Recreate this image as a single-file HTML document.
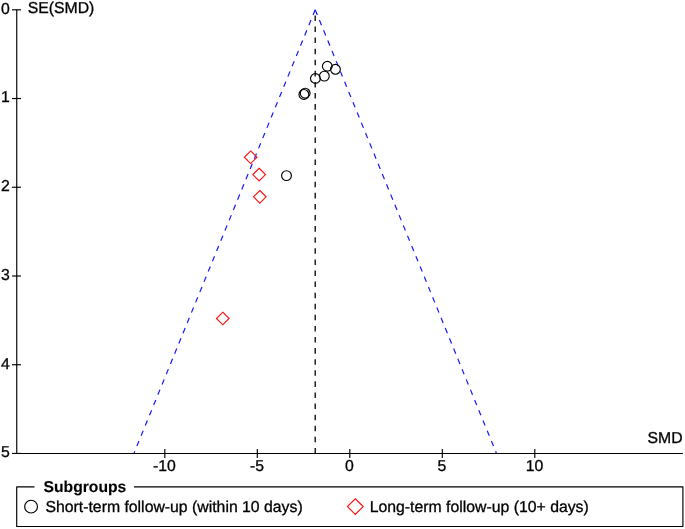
<!DOCTYPE html>
<html><head><meta charset="utf-8"><title>Funnel plot</title>
<style>html,body{margin:0;padding:0;background:#fff}svg{display:block}text{stroke:#000;stroke-width:.3px}</style></head>
<body>
<svg width="685" height="529" viewBox="0 0 685 529" font-family="'Liberation Sans', Arial, sans-serif" font-size="15.8" fill="#000" text-rendering="geometricPrecision" stroke-linejoin="miter">
<rect width="685" height="529" fill="#fff"/>
<g fill="none" stroke="#1818ff" stroke-width="1.2" stroke-dasharray="5.545 5.545">
<path d="M315.2 9.8 L133.90 453.45"/>
<path d="M315.2 9.8 L496.50 453.45"/>
</g>
<path d="M315.2 453.45 L315.2 9.8" fill="none" stroke="#000" stroke-width="1.3" stroke-dasharray="5.545 5.545"/>
<g fill="none" stroke="#000" stroke-width="1.15">
<path d="M16.75 9.8 L16.75 453.45 L682.9 453.45"/>
<path d="M12 9.80 H21"/>
<path d="M12 98.53 H21"/>
<path d="M12 187.26 H21"/>
<path d="M12 275.99 H21"/>
<path d="M12 364.72 H21"/>
<path d="M12 453.45 H21"/>
<path d="M164.80 449 V458"/>
<path d="M257.30 449 V458"/>
<path d="M349.80 449 V458"/>
<path d="M442.30 449 V458"/>
<path d="M534.80 449 V458"/>
</g>
<text x="9.7" y="13.60" text-anchor="end">0</text>
<text x="9.7" y="102.33" text-anchor="end">1</text>
<text x="9.7" y="191.06" text-anchor="end">2</text>
<text x="9.7" y="279.79" text-anchor="end">3</text>
<text x="9.7" y="368.52" text-anchor="end">4</text>
<text x="9.7" y="457.25" text-anchor="end">5</text>
<text x="164.50" y="471.1" text-anchor="middle">-10</text>
<text x="257.00" y="471.1" text-anchor="middle">-5</text>
<text x="349.50" y="471.1" text-anchor="middle">0</text>
<text x="442.00" y="471.1" text-anchor="middle">5</text>
<text x="534.50" y="471.1" text-anchor="middle">10</text>
<text x="27.7" y="13.15">SE(SMD)</text>
<text x="682.55" y="443.15" text-anchor="end">SMD</text>
<g fill="none" stroke="#000" stroke-width="1.15">
<circle cx="327.3" cy="66.25" r="4.9"/>
<circle cx="335.45" cy="69.3" r="4.9"/>
<circle cx="324.35" cy="76.1" r="4.9"/>
<circle cx="315.4" cy="78.5" r="4.9"/>
<circle cx="303.9" cy="94.45" r="4.9"/>
<circle cx="305.15" cy="93.2" r="4.9"/>
<circle cx="286.5" cy="175.6" r="4.9"/>
<circle cx="31.07" cy="506.6" r="6.4"/>
</g>
<g fill="none" stroke="#ff1010" stroke-width="1.15">
<path d="M250.66 150.95 L256.96 157.25 L250.66 163.55 L244.36 157.25 Z"/>
<path d="M259.17 168.26 L265.47 174.56 L259.17 180.86 L252.87 174.56 Z"/>
<path d="M259.8 190.50 L266.10 196.8 L259.8 203.10 L253.50 196.8 Z"/>
<path d="M222.8 312.20 L229.10 318.5 L222.8 324.80 L216.50 318.5 Z"/>
<path d="M355.3 498.75 L363.15 506.6 L355.3 514.45 L347.45 506.6 Z"/>
</g>
<path d="M34.5 486.9 H16.7 V526.5 H682.9 V486.9 H134" fill="none" stroke-linejoin="round" stroke="#000" stroke-width="1.15"/>
<text x="43.5" y="491.8" font-weight="bold" font-size="15.7" style="stroke-width:.12px">Subgroups</text>
<text x="45.45" y="511.9">Short-term follow-up (within 10 days)</text>
<text x="369.7" y="511.9">Long-term follow-up (10+ days)</text>
</svg>
</body></html>
